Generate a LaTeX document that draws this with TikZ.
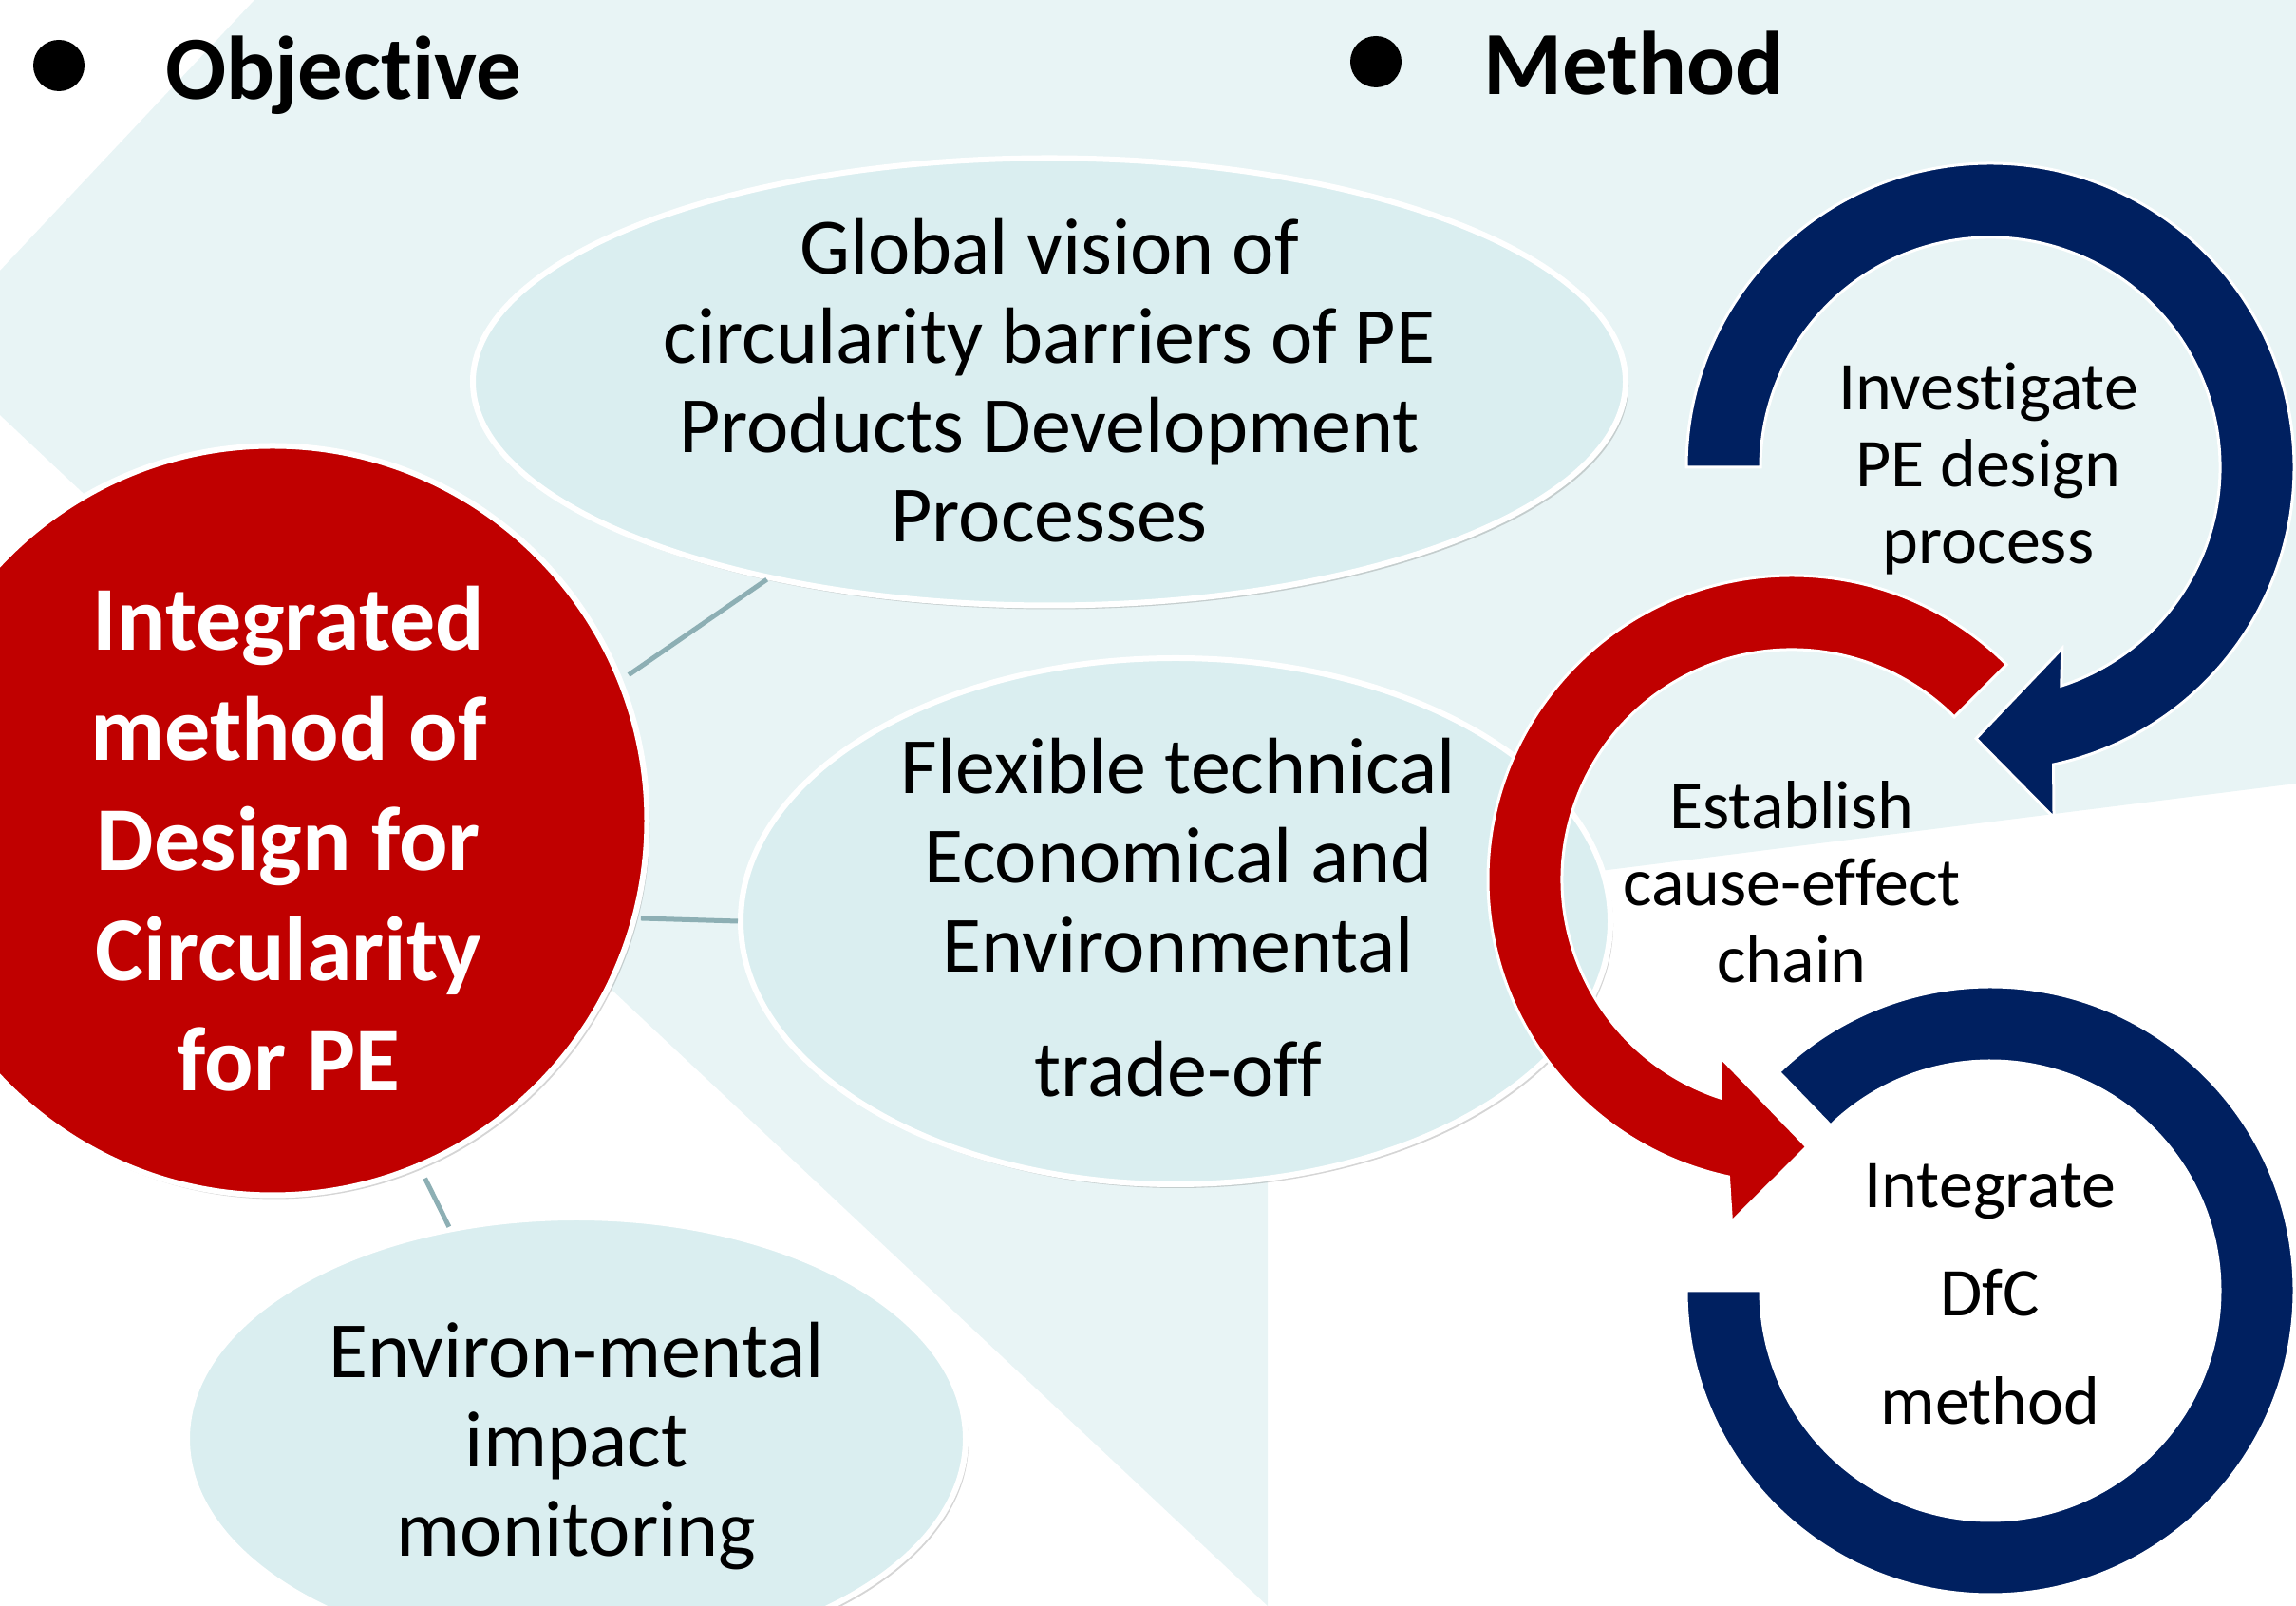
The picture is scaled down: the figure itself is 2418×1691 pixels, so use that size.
\documentclass[tikz,border=0pt]{standalone}
\usepackage{fontspec}
\setmainfont{Carlito}[Ligatures=NoCommon]
\usetikzlibrary{shapes.geometric,shadows}
\definecolor{bgteal}{HTML}{E8F4F5}
\definecolor{elfill}{HTML}{DAEEF0}
\definecolor{connc}{HTML}{8DAFB4}
\definecolor{navy}{HTML}{002060}
\definecolor{dred}{HTML}{C00000}
\begin{document}
\begin{tikzpicture}[x=1pt,y=1pt,
  bubble/.style={ellipse, fill=elfill, draw=white, line width=6pt, inner sep=0pt,
    drop shadow={shadow xshift=3pt, shadow yshift=-4pt, opacity=0.3, fill=black!55}},
  bubtxt/.style={align=center, inner sep=0pt, font=\fontsize{84}{94}\selectfont},
  conn/.style={draw=connc, line width=5pt},
  navyarrow/.style={fill=navy, draw=white, line width=3pt},
  redarrow/.style={fill=dred, draw=white, line width=3pt},
  arrtxt/.style={align=center, inner sep=0pt, font=\fontsize{72}{81}\selectfont},
  titletxt/.style={inner sep=0pt, font=\fontsize{95}{114}\selectfont\bfseries},
  bulletdot/.style={circle, fill=black, inner sep=0pt, minimum size=54pt}]
\useasboundingbox (0,0) rectangle (2418,1691);
\clip (0,0) rectangle (2418,1691);
% background
\fill[bgteal] (268,1691) -- (2418,1691) -- (2418,866) -- (1335,730) -- (1335,0)
  -- (0,1254) -- (0,1406) -- cycle;
% titles
\node[bulletdot] (b1) at (62,1622) {};
\node[titletxt, anchor=base west] (tobj) at (174,1586) {Objective};
\node[bulletdot] (b2) at (1449,1626) {};
\node[titletxt, anchor=base west] (tmeth) at (1562,1591) {Method};
% bubbles
\node[bubble, minimum width=1214pt, minimum height=471pt] (e1) at (1105,1289) {};
\node[bubble, minimum width=916pt, minimum height=554pt] (e2) at (1238,721) {};
\node[bubble, minimum width=820pt, minimum height=466pt] (e3) at (607,176) {};
\node[circle, fill=dred, draw=white, line width=6pt, inner sep=0pt, minimum size=789pt,
  drop shadow={shadow xshift=3pt, shadow yshift=-4pt, opacity=0.3, fill=black!55}] (red) at (287,827) {};
% connectors
\draw[conn, shorten <=8pt] (red.22) -- (e1.215);
\draw[conn, shorten <=4pt] (red.-15) -- (e2.180);
\draw[conn, shorten <=12pt] (red.-67) -- (e3.121);
% circular arrows
\coordinate (C1) at (2096,1199);
\coordinate (C2) at (1887,765);
\coordinate (C3) at (2096,332);
\draw[navyarrow] ([shift={(180:320)}]C1) arc[start angle=180, end angle=-78, radius=320]
  -- ([shift={(-79.7:375)}]C1) -- ([shift={(-93:286)}]C1) -- ([shift={(-68.3:205)}]C1)
  -- ([shift={(-72:242)}]C1) arc[start angle=-72, end angle=180, radius=242] -- cycle;
\draw[navyarrow] ([shift={(180:320)}]C3) arc[start angle=180, end angle=494, radius=320]
  -- ([shift={(494:242)}]C3) arc[start angle=494, end angle=180, radius=242] -- cycle;
\draw[redarrow] ([shift={(45:320)}]C2) arc[start angle=45, end angle=258, radius=320]
  -- ([shift={(260:366)}]C2) -- ([shift={(273.2:282)}]C2) -- ([shift={(248.3:202)}]C2)
  -- ([shift={(252:242)}]C2) arc[start angle=252, end angle=45, radius=242] -- cycle;
% texts
\node[bubtxt] (t1) at (1105,1290) {Global vision of\\circularity barriers of PE\\Products Development\\Processes};
\node[bubtxt] (t2) at (1241,725) {Flexible technical\\Economical and\\Environmental\\[37pt]trade-off};
\node[bubtxt] (t3) at (607,168) {Environ-mental\\impact\\monitoring};
\node[align=center, inner sep=0pt, text=white, font=\fontsize{96}{116}\selectfont\bfseries] (tred) at (304,808)
  {Integrated\\method of\\Design for\\Circularity\\for PE};
\node[arrtxt] (a1) at (2094,1197) {Investigate\\PE design\\process};
\node[arrtxt] (a2) at (1887,762) {Establish\\cause-effect\\chain};
\node[arrtxt, font=\fontsize{72}{114}\selectfont] (a3) at (2096,328) {Integrate\\DfC\\method};
\end{tikzpicture}
\end{document}
